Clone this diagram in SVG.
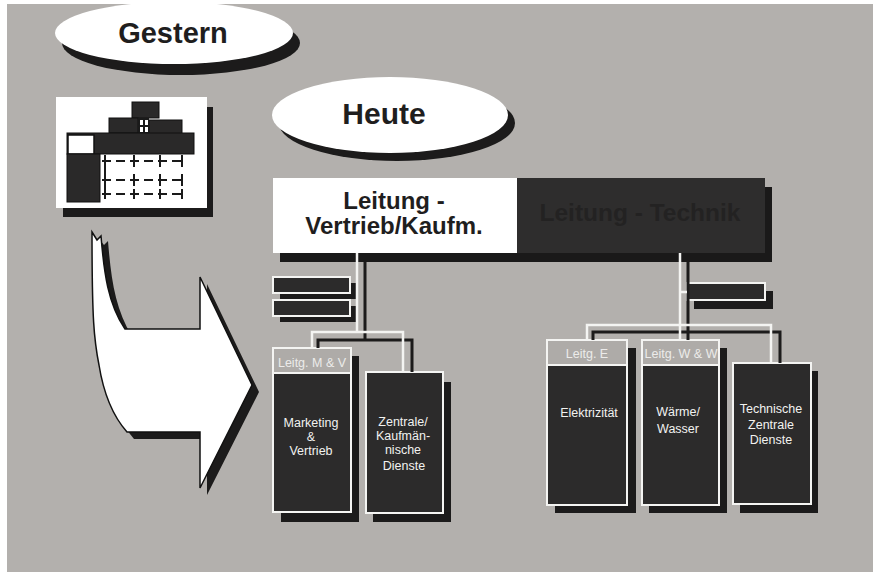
<svg xmlns="http://www.w3.org/2000/svg" width="877" height="572" viewBox="0 0 877 572">
<defs>
<style>
.bg{fill:#b3b0ad}
.dark{fill:#2c2b2b;stroke:#f4f4f2;stroke-width:2}
.shadow{fill:#1c1b1b}
.hdr{fill:#aeaba8;stroke:#f4f4f2;stroke-width:2}
.wl{fill:none;stroke:#f4f4f2;stroke-width:2.5}
.dl{fill:none;stroke:#1c1b1b;stroke-width:3}
.big{font-family:"Liberation Sans",Arial,sans-serif;font-weight:bold;fill:#1f1e1e;text-anchor:middle}
.small{font-family:"Liberation Sans",Arial,sans-serif;font-size:12.5px;fill:#f2f2f0;text-anchor:middle}
.hdrtxt{font-family:"Liberation Sans",Arial,sans-serif;font-size:12.5px;fill:#ecebea;text-anchor:middle}
</style>
</defs>
<rect x="0" y="0" width="877" height="572" fill="#ffffff"/>
<rect class="bg" x="7" y="4" width="866" height="568"/>

<g id="gestern">
<ellipse cx="181" cy="43" rx="119" ry="32" fill="#1c1b1b"/>
<ellipse cx="174" cy="33" rx="119" ry="31" fill="#ffffff"/>
<text class="big" x="173" y="43" font-size="29">Gestern</text>
</g>

<g id="icon-gestern">
<rect x="63" y="107" width="150" height="110" fill="#1c1b1b"/>
<rect x="56" y="97" width="151" height="111" fill="#ffffff"/>
<rect x="132" y="102" width="27" height="16" fill="#2a2929" stroke="#111" stroke-width="1"/>
<rect x="109" y="118" width="29" height="15" fill="#2a2929" stroke="#111" stroke-width="1"/>
<rect x="149" y="120" width="33" height="14" fill="#2a2929" stroke="#111" stroke-width="1"/>
<rect x="138" y="118" width="11" height="16" fill="#1a1a1a"/>
<rect x="140" y="120" width="3" height="5" fill="#fff"/>
<rect x="145" y="120" width="3" height="5" fill="#fff"/>
<rect x="140" y="127" width="3" height="5" fill="#fff"/>
<rect x="145" y="127" width="3" height="5" fill="#fff"/>
<rect x="67" y="133" width="127" height="21" fill="#2a2929" stroke="#111" stroke-width="1"/>
<rect x="68" y="135" width="26" height="19" fill="#ffffff" stroke="#111" stroke-width="1.5"/>
<rect x="67" y="154" width="33" height="48" fill="#2a2929" stroke="#111" stroke-width="1"/>
<g stroke="#1a1a1a" stroke-width="2" fill="none">
<path d="M102,161 H183 M102,180 H183 M102,194 H183" stroke-dasharray="9 5"/>
<path d="M105,155 V199 M134,155 V167 M134,174 V186 M134,189 V199 M160,155 V167 M160,174 V186 M160,189 V199 M182,155 V167 M182,174 V186 M182,189 V199"/>
</g>
</g>

<g id="arrow">
<path d="M99,239 L104,245 L108,241 C111,278 115,309 132,336 L207,336 L207,284 L259,392 L207,495 L207,439 L134,439 C119,422 110,397 106,372 C101,347 99,327 99,239 Z" fill="#1c1b1b"/>
<path d="M92,232 L97,240 L101,236 C104,273 108,304 125,329 L200,329 L200,277 L252,385 L200,488 L200,432 L127,432 C112,415 103,390 99,365 C94,340 92,320 92,232 Z" fill="#ffffff" stroke="#111" stroke-width="1.5" stroke-linejoin="miter"/>
</g>

<g id="heute">
<ellipse cx="397" cy="123" rx="118" ry="38" fill="#1c1b1b"/>
<ellipse cx="390" cy="115" rx="118" ry="38" fill="#ffffff"/>
<text class="big" x="384" y="124" font-size="30">Heute</text>
</g>

<g id="leitung-bar">
<rect x="280" y="187" width="492" height="75" fill="#1a1919"/>
<rect x="273" y="178" width="244" height="75" fill="#ffffff"/>
<rect x="517" y="178" width="248" height="75" fill="#2e2d2d"/>
<text class="big" x="394" y="209" font-size="24">Leitung -</text>
<text class="big" x="394" y="234" font-size="24">Vertrieb/Kaufm.</text>
<text class="big" x="640" y="221" font-size="24.5" style="fill:#232222">Leitung - Technik</text>
</g>

<g id="stab-links-1">
<rect class="shadow" x="280" y="283" width="77" height="16"/>
<rect class="dark" x="273" y="277" width="77" height="16"/>
</g>
<g id="stab-links-2">
<rect class="shadow" x="280" y="306" width="77" height="16"/>
<rect class="dark" x="273" y="300" width="77" height="16"/>
</g>
<g id="stab-rechts">
<rect class="shadow" x="694" y="291" width="79" height="18"/>
<rect class="dark" x="687" y="283" width="78" height="17"/>
</g>

<g id="marketing">
<rect class="shadow" x="281" y="356" width="78" height="166"/>
<rect class="dark" x="273" y="348" width="78" height="164"/>
<rect class="hdr" x="273" y="348" width="78" height="25"/>
<text class="hdrtxt" x="312" y="367">Leitg. M &amp; V</text>
<text class="small" x="311" y="427">Marketing</text>
<text class="small" x="311" y="441">&amp;</text>
<text class="small" x="311" y="455">Vertrieb</text>
</g>

<g id="zentrale-kaufm">
<rect class="shadow" x="373" y="382" width="78" height="140"/>
<rect class="dark" x="366" y="372" width="77" height="141"/>
<text class="small" x="403" y="426">Zentrale/</text>
<text class="small" x="403" y="440">Kaufmän-</text>
<text class="small" x="403" y="454">nische</text>
<text class="small" x="404" y="470">Dienste</text>
</g>

<g id="elektrizitaet">
<rect class="shadow" x="555" y="348" width="81" height="165"/>
<rect class="dark" x="547" y="340" width="80" height="165"/>
<rect class="hdr" x="547" y="340" width="80" height="25"/>
<text class="hdrtxt" x="587" y="358">Leitg. E</text>
<text class="small" x="589" y="417">Elektrizität</text>
</g>

<g id="waerme-wasser">
<rect class="shadow" x="649" y="348" width="78" height="165"/>
<rect class="dark" x="642" y="340" width="77" height="165"/>
<rect class="hdr" x="642" y="340" width="77" height="25"/>
<text class="hdrtxt" x="681" y="358">Leitg. W &amp; W</text>
<text class="small" x="678" y="416">Wärme/</text>
<text class="small" x="678" y="433">Wasser</text>
</g>

<g id="technische-dienste">
<rect class="shadow" x="740" y="371" width="78" height="142"/>
<rect class="dark" x="733" y="363" width="78" height="141"/>
<text class="small" x="771" y="413">Technische</text>
<text class="small" x="771" y="429">Zentrale</text>
<text class="small" x="771" y="444">Dienste</text>
</g>

<g id="connectors">
<path class="dl" d="M365,262 V340 M318,348 V340 H412 V372"/>
<path class="dl" d="M688,262 V340 M593,340 V332 H780 V363"/>
<path class="wl" d="M357,253 V332 M312,348 V332 H403 V372"/>
<path class="wl" d="M680,253 V340 M680,292 H687 M587,340 V325 H771 V363"/>
</g>
</svg>
